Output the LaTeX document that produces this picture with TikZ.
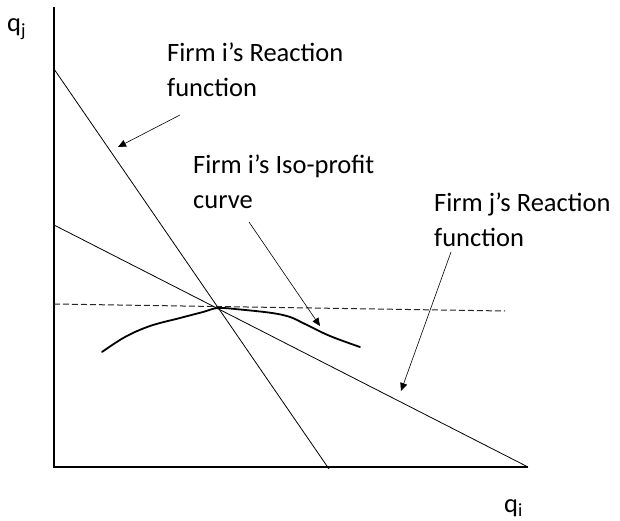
\documentclass[tikz,border=0pt]{standalone}
\usepackage{fontspec}
\setmainfont{Carlito}
\usetikzlibrary{arrows.meta}

\begin{document}
\begin{tikzpicture}[
  x=1pt, y=-1pt,
  every node/.style={inner sep=0pt, anchor=base west, align=left,
    font=\fontsize{26.5}{35}\selectfont},
  axis/.style={line width=1.1pt},
  reaction/.style={line width=0.8pt},
  isoprofit/.style={line width=1.8pt, line cap=round, line join=round},
  pointer/.style={-{Triangle[length=8pt, width=7pt]}, line width=0.6pt},
  >=Stealth
]
  \useasboundingbox (0,0) rectangle (620,521);

  % Axes
  \coordinate (O)    at (54,467);
  \coordinate (ytop) at (54,7);
  \coordinate (xend) at (528,467);
  \draw[axis] (ytop) -- (O) -- (xend);
  \node (qj) at (7,32)   {q\textsubscript{j}};
  \node (qi) at (504,512) {q\textsubscript{i}};

  % Reaction functions
  \coordinate (ri0) at (54,69);
  \coordinate (ri1) at (329,469);
  \coordinate (rj0) at (54,225);
  \coordinate (rj1) at (528,467);
  \draw[reaction] (ri0) -- (ri1);
  \draw[reaction] (rj0) -- (rj1);

  % Tangent (dashed) and iso-profit curve
  \coordinate (d0) at (54,304);
  \coordinate (d1) at (505,311);
  \draw[black!85, line width=1pt, dash pattern=on 6pt off 3pt] (d0) -- (d1);
  \draw[isoprofit] plot[smooth, tension=0.6] coordinates {
    (102,352) (125,337) (150,326) (180,318) (203,312) (218,308)
    (240,309.5) (272,313) (290,317) (305,324) (330,336) (360,347)};

  % Labels (anchored at the baseline of the last line)
  \node (labi)   at (167,97)  {Firm i’s Reaction\\function};
  \node (labiso) at (193,208) {Firm i’s Iso-profit\\curve};
  \node (labj)   at (434,246) {Firm j’s Reaction\\function};

  % Pointers
  \coordinate (pi0) at (180,115);
  \coordinate (pi1) at (118,147);
  \coordinate (piso0) at (249,222);
  \coordinate (piso1) at (320,326);
  \coordinate (pj0) at (451,252);
  \coordinate (pj1) at (401,391);
  \draw[pointer] (pi0) -- (pi1);
  \draw[pointer] (piso0) -- (piso1);
  \draw[pointer] (pj0) -- (pj1);
\end{tikzpicture}
\end{document}
